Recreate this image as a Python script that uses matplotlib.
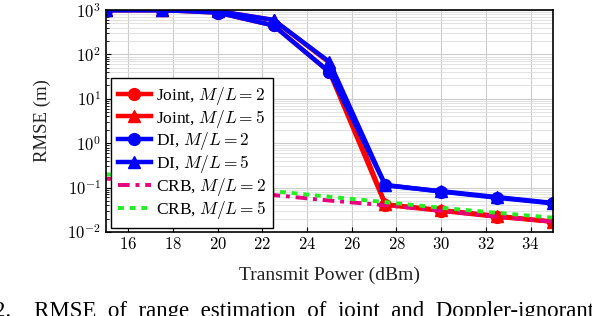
import matplotlib.pyplot as plt
import numpy as np
from matplotlib.ticker import FuncFormatter, LogLocator

plt.rcParams['font.family'] = ['Liberation Serif', 'DejaVu Serif']
plt.rcParams['mathtext.fontset'] = 'cm'

power = [15, 17.5, 20, 22.5, 25, 27.5, 30, 32.5, 35]
joint_2 = [1000, 1000, 880, 450, 40, 0.041, 0.030, 0.022, 0.017]
joint_5 = [1000, 1000, 950, 600, 65, 0.042, 0.031, 0.023, 0.017]
di_2 = [1000, 1000, 880, 450, 40, 0.115, 0.081, 0.059, 0.044]
di_5 = [1000, 1000, 950, 600, 68, 0.112, 0.083, 0.061, 0.045]
crb_2 = [0.16, 0.12, 0.09, 0.068, 0.051, 0.040, 0.030, 0.022, 0.017]
crb_5 = [0.20, 0.15, 0.11, 0.083, 0.062, 0.047, 0.035, 0.027, 0.021]

fig = plt.figure(figsize=(5.92, 3.16), dpi=100)
ax = fig.add_axes([0.179, 0.266, 0.755, 0.702])

ax.plot(power, joint_2, color='red', lw=3.2, marker='o', ms=8.5, label=r'Joint, $M/L=2$')
ax.plot(power, joint_5, color='red', lw=3.2, marker='^', ms=8.5, label=r'Joint, $M/L=5$')
ax.plot(power, di_2, color='blue', lw=3.2, marker='o', ms=8.5, label=r'DI, $M/L=2$')
ax.plot(power, di_5, color='blue', lw=3.2, marker='^', ms=8.5, label=r'DI, $M/L=5$')
ax.plot(power, crb_2, color='#e6007e', lw=2.8, ls=(0, (3, 1.5, 1, 1.5)), label=r'CRB, $M/L=2$')
ax.plot(power, crb_5, color='#22ee22', lw=2.8, ls=(0, (1.5, 1.5)), label=r'CRB, $M/L=5$')

ax.set_yscale('log')
ax.set_xlim(15, 35)
ax.set_ylim(1e-2, 1e3)
ax.set_xticks(np.arange(16, 35, 2))
ax.yaxis.set_major_locator(LogLocator(base=10, numticks=10))
ax.xaxis.set_major_formatter(FuncFormatter(lambda v, p: f'${v:g}$'))
ax.yaxis.set_major_formatter(FuncFormatter(lambda v, p: f'$10^{{{int(round(np.log10(v)))}}}$'))
ax.grid(True, which='major', color='#cccccc', lw=0.8)
ax.grid(True, which='minor', color='#dddddd', lw=0.6)
ax.tick_params(labelsize=12, direction='in', which='both')
for s in ax.spines.values():
    s.set_linewidth(1.2)

ax.set_xlabel('Transmit Power (dBm)', fontsize=14, color='#222222', labelpad=10)
ax.set_ylabel('RMSE (m)', fontsize=13.5, color='#222222', labelpad=12)

leg = ax.legend(loc='lower left', bbox_to_anchor=(0.011, 0.018), borderaxespad=0,
                fontsize=12.5, fancybox=False, edgecolor='black', framealpha=1,
                handlelength=1.9, handletextpad=0.3, borderpad=0.4,
                labelspacing=0.05)
leg.get_frame().set_linewidth(1.0)

fig.text(-0.01, 1 - 301 / 316, '2.    RMSE  of  range  estimation  of  joint  and  Doppler-ignorant',
         fontsize=16.5, va='top')

fig.savefig('out.png', dpi=100)
